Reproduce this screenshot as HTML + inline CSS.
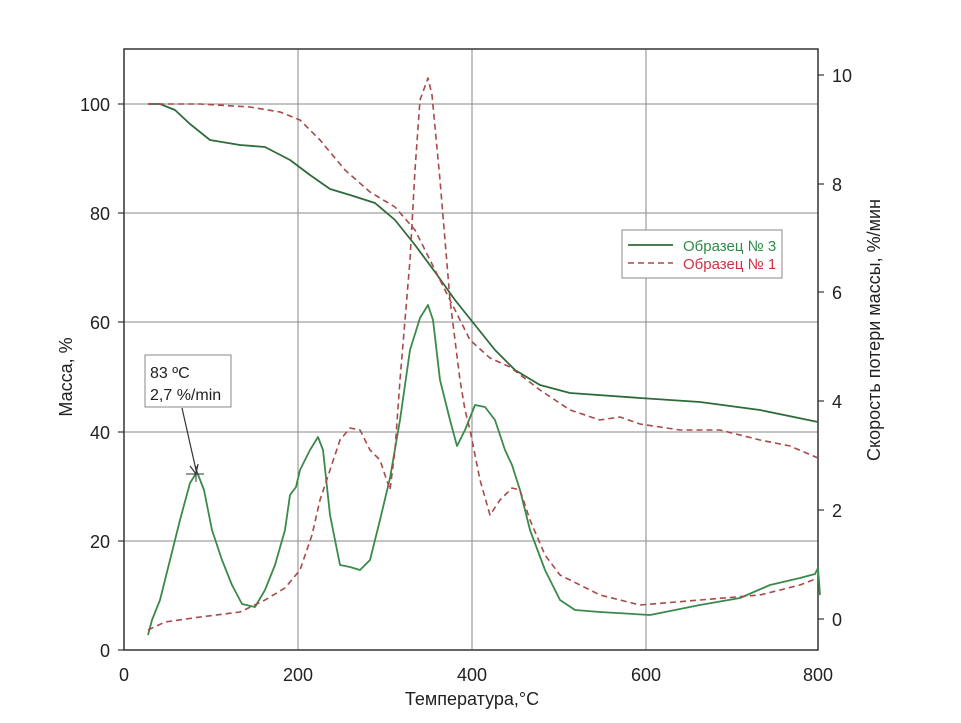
<!DOCTYPE html>
<html><head><meta charset="utf-8"><style>body{margin:0;background:#fff}svg{display:block}</style></head><body>
<svg width="961" height="723" xmlns="http://www.w3.org/2000/svg" font-family="Liberation Sans, sans-serif">
<g stroke="#888" stroke-width="1">
<line x1="298" y1="49" x2="298" y2="650"/><line x1="472" y1="49" x2="472" y2="650"/><line x1="646" y1="49" x2="646" y2="650"/>
<line x1="124" y1="104" x2="818" y2="104"/><line x1="124" y1="213" x2="818" y2="213"/><line x1="124" y1="322" x2="818" y2="322"/><line x1="124" y1="432" x2="818" y2="432"/><line x1="124" y1="541" x2="818" y2="541"/>
</g>
<rect x="124" y="49" width="694" height="601" fill="none" stroke="#333" stroke-width="1.5"/>
<g stroke="#333" stroke-width="1.2">
<line x1="118" y1="104" x2="124" y2="104"/><line x1="118" y1="213" x2="124" y2="213"/><line x1="118" y1="322" x2="124" y2="322"/><line x1="118" y1="432" x2="124" y2="432"/><line x1="118" y1="541" x2="124" y2="541"/><line x1="118" y1="650" x2="124" y2="650"/>
<line x1="818" y1="75" x2="824" y2="75"/><line x1="818" y1="184" x2="824" y2="184"/><line x1="818" y1="292" x2="824" y2="292"/><line x1="818" y1="401" x2="824" y2="401"/><line x1="818" y1="510" x2="824" y2="510"/><line x1="818" y1="619" x2="824" y2="619"/>
</g>
<g font-size="18" fill="#222" text-anchor="end">
<text x="110" y="111">100</text><text x="110" y="220">80</text><text x="110" y="329">60</text><text x="110" y="439">40</text><text x="110" y="548">20</text><text x="110" y="657">0</text>
</g>
<g font-size="18" fill="#222">
<text x="832" y="82">10</text><text x="832" y="191">8</text><text x="832" y="299">6</text><text x="832" y="408">4</text><text x="832" y="517">2</text><text x="832" y="626">0</text>
</g>
<g font-size="18" fill="#222" text-anchor="middle">
<text x="124" y="681">0</text><text x="298" y="681">200</text><text x="472" y="681">400</text><text x="646" y="681">600</text><text x="818" y="681">800</text>
<text x="472" y="705">Температура,°C</text>
<text transform="translate(72,377) rotate(-90)">Масса, %</text>
<text transform="translate(880,330) rotate(-90)">Скорость потери массы, %/мин</text>
</g>
<g fill="none" stroke-linejoin="round">
<polyline stroke="#2f6b3a" stroke-width="1.8" points="148,104 160,104 175,110 190,124 210,140 240,145 265,147 290,160 310,175 330,189 350,195 375,203 395,220 415,245 435,272 455,300 475,325 495,350 515,370 540,385 570,393 640,398 700,402 760,410 818,422"/>
<polyline stroke="#a84a4a" stroke-width="1.6" stroke-dasharray="6,4" points="148,104 200,104 250,107 280,112 300,120 320,140 345,170 370,192 395,207 415,230 430,260 450,300 470,340 490,358 510,367 540,390 570,410 600,420 620,417 640,424 680,430 720,430 760,440 790,446 818,458"/>
<polyline stroke="#3a8a4a" stroke-width="1.8" points="148,635 152,620 160,600 170,560 180,520 190,483 197,472 204,490 212,530 222,560 232,585 242,604 255,607 265,590 275,565 285,530 290,495 296,487 300,470 310,450 318,437 323,450 330,515 340,565 350,567 360,570 370,560 380,520 390,478 400,420 410,350 420,318 428,305 433,320 440,380 450,420 457,446 465,430 475,405 485,407 495,420 505,450 512,465 520,490 530,530 545,570 560,600 575,610 600,612 650,615 700,605 740,598 770,585 800,578 815,574 818,568 820,595"/>
<polyline stroke="#a84a4a" stroke-width="1.6" stroke-dasharray="6,4" points="148,630 165,622 200,617 240,612 265,600 285,588 300,570 312,535 320,500 330,470 340,440 350,428 360,430 370,450 380,460 390,490 395,450 400,380 405,320 410,260 415,170 420,100 428,78 432,95 440,180 450,300 460,380 465,410 470,430 480,480 490,515 500,500 512,488 520,490 530,520 545,555 560,575 600,595 640,605 700,600 760,595 800,585 818,578"/>
</g>
<rect x="145" y="355" width="86" height="52" fill="#fff" stroke="#888"/>
<text x="150" y="378" font-size="16" fill="#222">83 ºC</text>
<text x="150" y="400" font-size="16" fill="#222">2,7 %/min</text>
<line x1="182" y1="408" x2="196" y2="470" stroke="#333" stroke-width="1.2"/>
<path d="M190,466 L196,474 L198,464" fill="none" stroke="#333" stroke-width="1.2"/>
<line x1="186" y1="474" x2="204" y2="474" stroke="#333"/><line x1="196" y1="466" x2="196" y2="482" stroke="#333"/>
<rect x="622" y="230" width="160" height="48" fill="#fff" stroke="#888"/>
<line x1="628" y1="245" x2="673" y2="245" stroke="#2f6b3a" stroke-width="1.8"/>
<line x1="628" y1="263" x2="673" y2="263" stroke="#a84a4a" stroke-width="1.6" stroke-dasharray="6,4"/>
<text x="683" y="251" font-size="15" fill="#2f8a4a">Образец № 3</text>
<text x="683" y="269" font-size="15" fill="#cc3344">Образец № 1</text>
</svg>
</body></html>
